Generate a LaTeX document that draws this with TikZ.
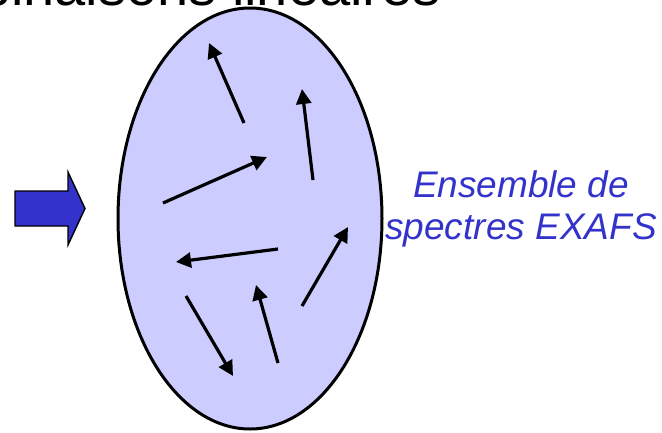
\documentclass[tikz,border=0pt]{standalone}
\usepackage{fontspec}
\setmainfont{Liberation Sans}
\usetikzlibrary{arrows.meta,shapes.geometric}
\definecolor{setfill}{HTML}{CCCCFF}
\definecolor{deepblue}{HTML}{3333CC}
\tikzset{
  vec/.style={line width=3.2pt,-{Triangle[length=15pt,width=15pt]}},
  setshape/.style={ellipse,draw=black,line width=3pt,fill=setfill,
    minimum width=264pt,minimum height=421pt,inner sep=0pt},
  caption/.style={text=deepblue,font=\fontsize{37}{42}\selectfont\itshape,
    align=center,inner sep=0pt},
  title/.style={font=\fontsize{56}{60}\selectfont,inner sep=0pt},
  bigarrow/.style={fill=deepblue,draw=black,line width=1.4pt,line join=miter}
}
\begin{document}
\begin{tikzpicture}[x=1pt,y=-1pt]
  \useasboundingbox (0,0) rectangle (662,432);
  \clip (0,0) rectangle (662,432);

  % heading, mostly above the frame
  \node[title,anchor=base east] (head) at (441,5) {Combinaisons linéaires};

  % the set of spectra
  \node[setshape] (set) at (250,218.5) {};

  % incoming block arrow
  \draw[bigarrow] (15,191) -- (68,191) -- (68,172) -- (85,208.5)
    -- (68,245) -- (68,226) -- (15,226) -- cycle;

  % individual spectra as vectors
  \coordinate (a1) at (244,123); \coordinate (b1) at (209,43);
  \coordinate (a2) at (313,180); \coordinate (b2) at (302,89);
  \coordinate (a3) at (163,203); \coordinate (b3) at (267,157);
  \coordinate (a4) at (278,249); \coordinate (b4) at (176,262);
  \coordinate (a5) at (302,306); \coordinate (b5) at (348,227);
  \coordinate (a6) at (278,363); \coordinate (b6) at (256,285);
  \coordinate (a7) at (186,296); \coordinate (b7) at (233,376);
  \foreach \i in {1,...,7} \draw[vec] (a\i) -- (b\i);

  % caption
  \node[caption,anchor=north] (cap) at (521,170) {Ensemble de\\spectres EXAFS};
\end{tikzpicture}
\end{document}
